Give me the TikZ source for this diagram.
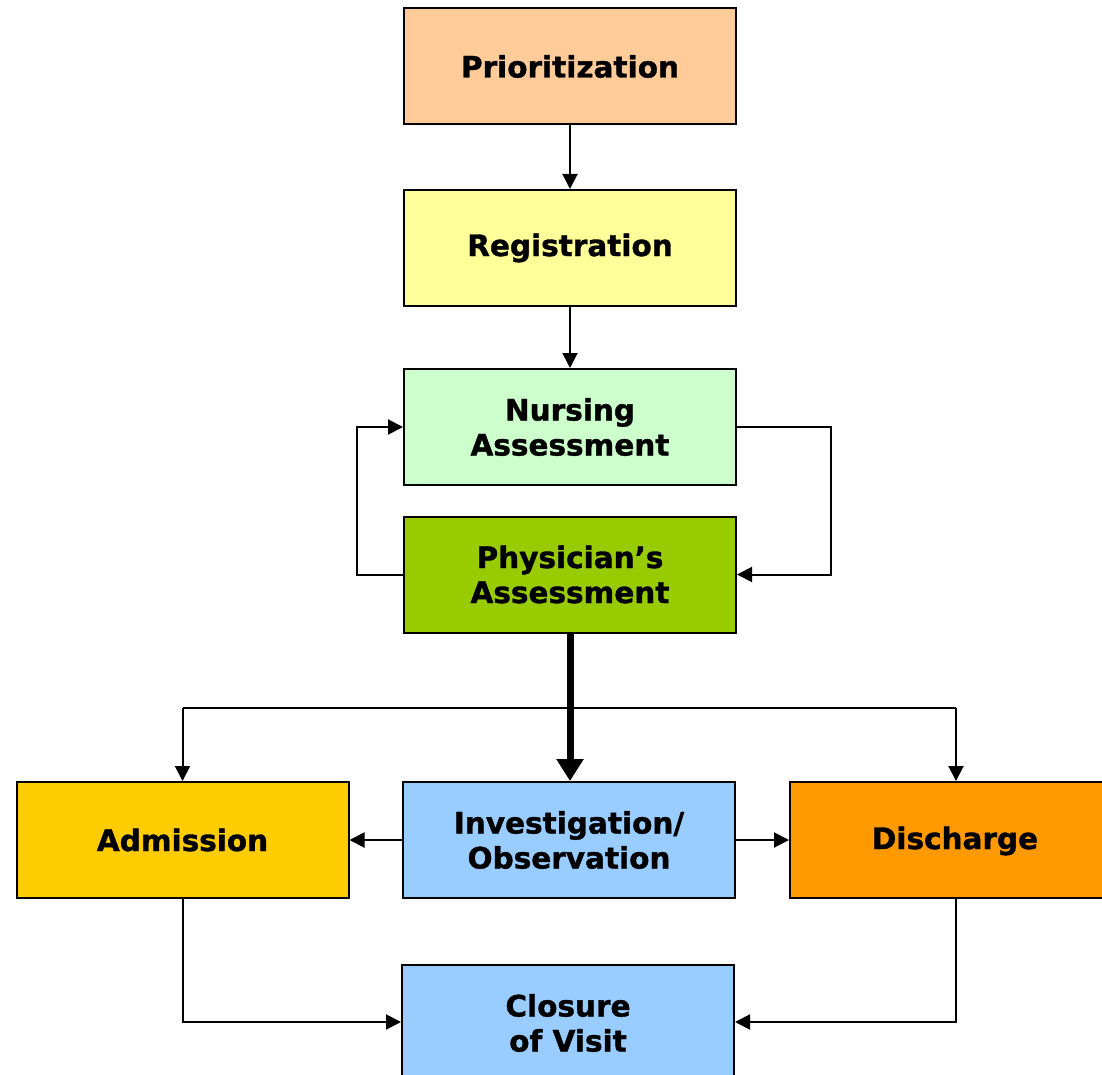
\documentclass[tikz,border=0pt]{standalone}
\usepackage{fontspec}
\setmainfont{DejaVu Sans}[BoldFont={DejaVu Sans Bold}, BoldFeatures={FakeBold=1.2}]
\usetikzlibrary{arrows.meta}
\definecolor{cPrio}{HTML}{FFCC99}
\definecolor{cReg}{HTML}{FFFF99}
\definecolor{cNurse}{HTML}{CCFFCC}
\definecolor{cPhys}{HTML}{99CC00}
\definecolor{cAdm}{HTML}{FFCC00}
\definecolor{cInv}{HTML}{99CCFF}
\definecolor{cDis}{HTML}{FF9900}
\tikzset{
  box/.style={draw=black, line width=2pt, rectangle, inner sep=0pt,
    font=\bfseries\fontsize{29.5}{35}\selectfont, align=center,
    minimum width=332pt, minimum height=116pt},
  conn/.style={draw=black, line width=2pt, -{Triangle[length=15pt,width=15pt]}},
  thickconn/.style={draw=black, line width=7pt, -{Triangle[length=22pt,width=26pt]}}
}
\begin{document}
\begin{tikzpicture}[x=1pt,y=-1pt]
\useasboundingbox (0,0) rectangle (1102,1075);
\begin{scope}
\clip (0,0) rectangle (1102,1075);
\node[box, fill=cPrio] (prio) at (570,66.5) {Prioritization};
\node[box, fill=cReg] (reg) at (570,248) {Registration};
\node[box, fill=cNurse] (nurse) at (570,427) {Nursing\\Assessment};
\node[box, fill=cPhys] (phys) at (570,574.5) {Physician’s\\Assessment};
\node[box, fill=cAdm] (adm) at (182.5,840) {Admission};
\node[box, fill=cInv] (inv) at (569,840) {Investigation/\\Observation};
\node[box, fill=cDis] (dis) at (956,840) {};
\node[font=\bfseries\fontsize{29.5}{35}\selectfont] (distext) at (955,841) {Discharge};
\node[box, fill=cInv, minimum height=124pt] (clo) at (568,1027) {};
\node[font=\bfseries\fontsize{29.5}{35}\selectfont, align=center] (clotext) at (568,1023) {Closure\\of Visit};
\end{scope}
\coordinate (lt) at (357,427);
\coordinate (rt) at (831,427);
\coordinate (split) at (570,708);
\draw[conn] (prio) -- (reg);
\draw[conn] (reg) -- (nurse);
\draw[conn] (phys.west) -- (lt |- phys.west) -- (lt) -- (nurse.west);
\draw[conn] (nurse.east) -- (rt) -- (rt |- phys.east) -- (phys.east);
\draw[line width=2pt] (adm.north |- split) -- (dis.north |- split);
\draw[conn] (split -| adm.north) -- (adm.north);
\draw[conn] (split -| dis.north) -- (dis.north);
\draw[thickconn] (phys.south) -- (inv.north -| phys.south);
\draw[conn] (inv.west) -- (adm.east);
\draw[conn] (inv.east) -- (dis.west);
\draw[conn] (adm.south) -- (adm.south |- 0,1022) -- (clo.west |- 0,1022);
\draw[conn] (dis.south) -- (dis.south |- 0,1022) -- (clo.east |- 0,1022);
\end{tikzpicture}
\end{document}
